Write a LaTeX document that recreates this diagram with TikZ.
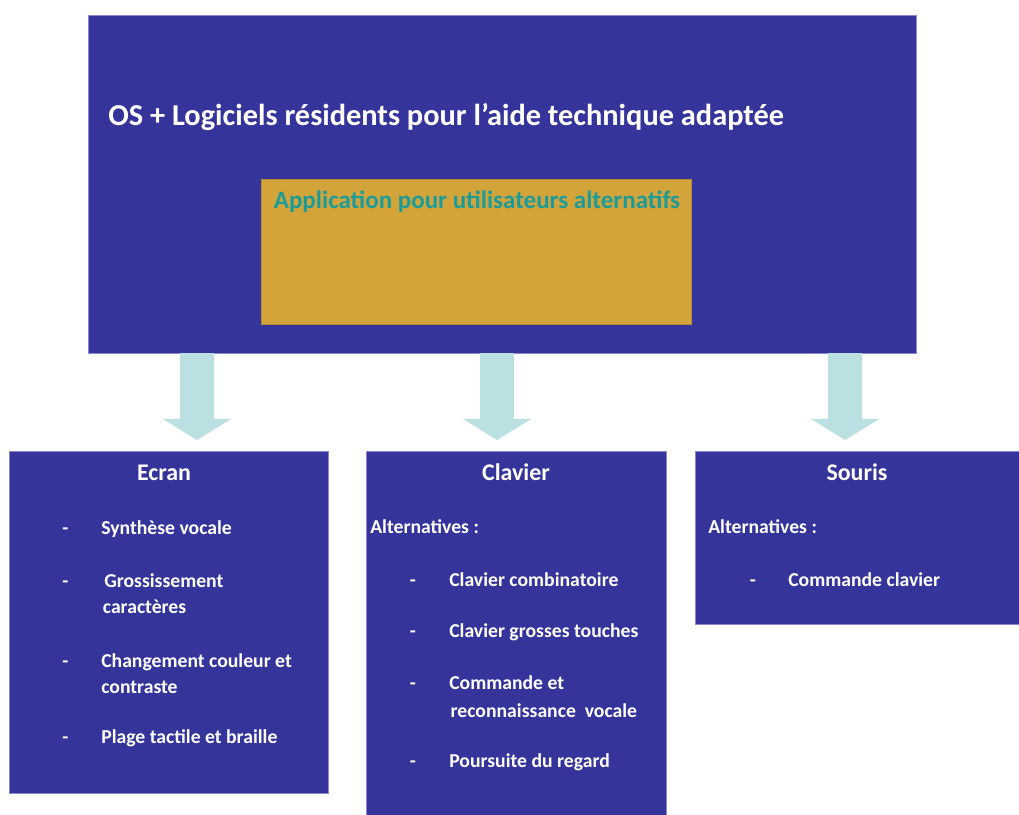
\documentclass[tikz,border=0pt]{standalone}
\usepackage{fontspec}
\setmainfont{Carlito}
\usetikzlibrary{arrows.meta,positioning}
\definecolor{indigo}{HTML}{35349A}
\definecolor{rim}{HTML}{8A89CF}
\definecolor{ochre}{HTML}{D3A43A}
\definecolor{tealtxt}{HTML}{1A9C9B}
\definecolor{pale}{HTML}{BAE0E2}

\begin{document}
\begin{tikzpicture}[x=0.025cm,y=-0.025cm,
  panel/.style={draw=rim,line width=0.5pt,fill=indigo,anchor=north west,inner sep=0,outer sep=0},
  boxtitle/.style={text=white,font=\bfseries\fontsize{17}{20}\selectfont,anchor=base,inner sep=0},
  entry/.style={text=white,font=\bfseries\fontsize{14}{17}\selectfont,anchor=base west,inner sep=0},
  hyph/.style={text=white,font=\bfseries\fontsize{14}{17}\selectfont,anchor=base,inner sep=0},
  flow/.style={draw=pale,line width=0.85cm,-{Triangle[width=1.7cm,length=0.525cm,line width=0pt]},shorten >=0.275cm}]
\useasboundingbox (0,0) rectangle (1019,815);

% top block with the embedded application
\node[panel,minimum width=20.7cm,minimum height=8.45cm] (os) at (88,15) {};
\node[text=white,font=\bfseries\fontsize{21.6}{25}\selectfont,anchor=base west,inner sep=0] (ostxt) at (108,125) {OS + Logiciels résidents pour l’aide technique adaptée};
\node[panel,fill=ochre,draw=ochre!85!black,minimum width=10.75cm,minimum height=3.625cm] (app) at (261,179) {};
\node[text=tealtxt,font=\bfseries\fontsize{17.8}{21}\selectfont,anchor=base,inner sep=0] (apptxt) at (477,208) {Application pour utilisateurs alternatifs};

% the three devices
\node[panel,minimum width=7.975cm,minimum height=8.55cm] (ecran) at (9,451) {};
\node[panel,minimum width=7.5cm,minimum height=9.1cm] (clavier) at (366,451) {};
\node[panel,minimum width=8.1cm,minimum height=4.325cm] (souris) at (695,451) {};

\draw[flow] ([xshift=7.1mm]ecran.north |- os.south) -- ([xshift=7.1mm]ecran.north);
\draw[flow] ([xshift=-4.75mm]clavier.north |- os.south) -- ([xshift=-4.75mm]clavier.north);
\draw[flow] ([xshift=-3mm]souris.north |- os.south) -- ([xshift=-3mm]souris.north);

% Ecran
\node[boxtitle] (ecrant) at (164,480) {Ecran};
\node[hyph] (d1) at (65.5,534) {-};
\node[entry] (e1) at (101,534) {Synthèse vocale};
\node[hyph] (d2) at (65.5,587) {-};
\node[entry] (e2) at (104,587) {Grossissement};
\node[entry,below=6.6mm of e2.base west,anchor=base west,xshift=-1pt] (e2b) {caractères};
\node[hyph] (d3) at (65.5,667) {-};
\node[entry] (e3) at (101,667) {Changement couleur et};
\node[entry,below=6.6mm of e3.base west,anchor=base west] (e3b) {contraste};
\node[hyph] (d4) at (65.5,743) {-};
\node[entry] (e4) at (101,743) {Plage tactile et braille};

% Clavier
\node[boxtitle] (claviert) at (516,480) {Clavier};
\node[entry] (calt) at (370,533) {Alternatives :};
\node[hyph] (k1d) at (413,586) {-};
\node[entry] (k1) at (449,586) {Clavier combinatoire};
\node[hyph] (k2d) at (413,637) {-};
\node[entry] (k2) at (449,637) {Clavier grosses touches};
\node[hyph] (k3d) at (413,689) {-};
\node[entry] (k3) at (449,689) {Commande et};
\node[entry,below=7mm of k3.base west,anchor=base west,xshift=1pt] (k3b) {reconnaissance~ vocale};
\node[hyph] (k4d) at (413,767) {-};
\node[entry] (k4) at (449,767) {Poursuite du regard};

% Souris
\node[boxtitle] (sourist) at (857,480) {Souris};
\node[entry] (salt) at (708,533) {Alternatives :};
\node[hyph] (s1d) at (753,586) {-};
\node[entry] (s1) at (788,586) {Commande clavier};
\end{tikzpicture}
\end{document}
